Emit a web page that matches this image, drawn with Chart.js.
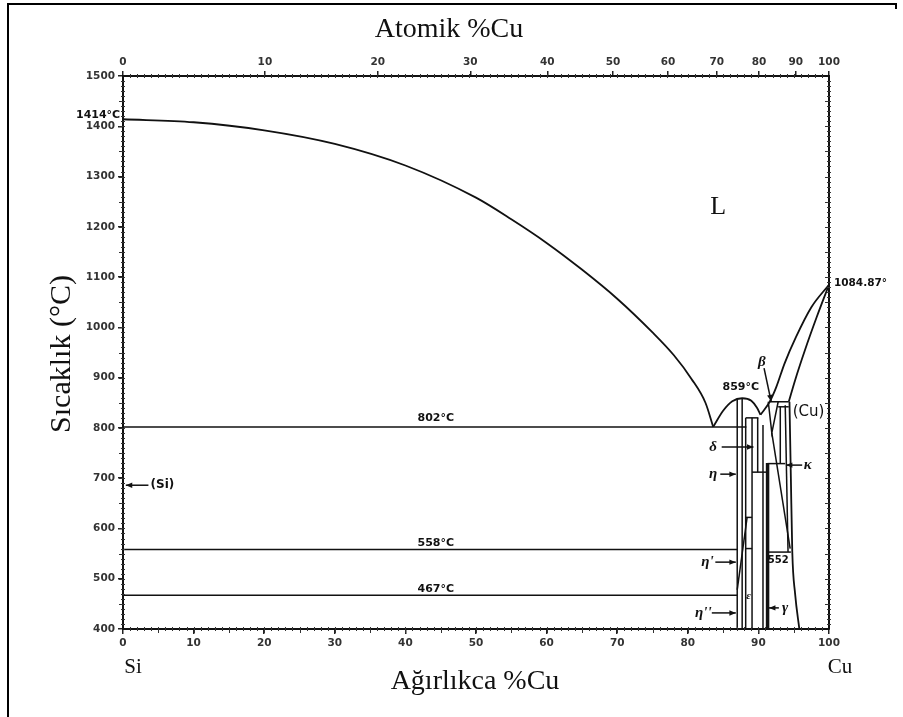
<!DOCTYPE html>
<html><head><meta charset="utf-8">
<script src="https://cdn.jsdelivr.net/npm/chart.js@4.4.0/dist/chart.umd.min.js"></script>
<style>html,body{margin:0;padding:0;background:#fff}canvas{display:block}</style>
</head><body>
<canvas id="c" width="903" height="717"></canvas>
<script>
/* ===== DATA: x = wt% Cu, y = °C ===== */
const atomTickPos = [0, 20.1, 36.1, 49.2, 60.1, 69.4, 77.2, 84.1, 90.1, 95.3, 100];
const atomTickLabels = ['0','10','20','30','40','50','60','70','80','90','100'];

const liquidusSi = [[0,1414],[10,1408],[20,1392],[30,1365],[40,1322],[50,1258],[55,1215],[60,1168],[65,1115],[70,1057],[75,990],[78,945],[80.5,898],[82.5,850],[83.6,802]];
const etaDome    = [[83.6,802],[85,834],[86.3,853],[87.7,859],[89,854],[89.8,840],[90.3,826]];
const liquidusCu = [[90.3,826],[91.6,852],[92.5,880],[93.7,928],[95.3,980],[97.5,1040],[100,1084.87]];
const solidusCu  = [[94.3,852],[95.2,895],[96.6,955],[98.3,1022],[100,1084.87]];
const solvusCu   = [[94.4,852],[94.6,700],[94.8,553],[95.2,470],[95.8,400]];
const iso802 = [[0,802],[88.3,802]];
const iso558 = [[0,558],[87.0,558]];
const iso467 = [[0,467],[87.0,467]];
const etaLeft  = [[87.0,400],[87.0,857]];
const etaRight = [[87.7,400],[87.7,858]];
const etaPrime = [[87.0,478],[88.4,622]];
const eta620   = [[88.2,622],[89.1,622]];
const eta558b  = [[88.2,560],[89.1,560]];
const epsLeft  = [[88.2,400],[88.2,820]];
const epsRight = [[89.1,400],[89.1,820]];
const delta824 = [[88.2,820],[90.0,820]];
const deltaRight = [[89.9,712],[89.9,820]];
const delta712 = [[89.1,712],[91.3,712]];
const gammaLeft = [[90.65,400],[90.65,806]];
const gammaBand = [[91.3,400],[91.3,730]];
const gamma729 = [[91.3,729],[93.8,729]];
const betaV    = [[91.4,852],[91.9,790],[92.8,852]];
const peri852  = [[91.6,852],[94.3,852]];
const kappa842 = [[92.8,842],[94.3,842]];
const kappaLeft = [[93.1,842],[93.1,729]];
const kappaDiag = [[91.9,790],[94.5,560]];
const kappaRight = [[93.8,845],[94.2,553]];
const eut552   = [[91.3,553],[94.6,553]];

const curves = [liquidusSi, etaDome, liquidusCu, solidusCu, solvusCu];
const straight = [iso802, iso558, iso467, etaLeft, etaRight, etaPrime, eta620, eta558b, epsLeft, epsRight,
  delta824, deltaRight, delta712, gammaLeft, gamma729, betaV, peri852, kappa842, kappaLeft, kappaDiag, kappaRight, eut552];

/* labels: [text, wt%, °C, align, font] */
const SANS = "bold 11px 'DejaVu Sans'";
const GREEK = "italic bold 15px 'Liberation Serif'";
const notes = [
  ['1414°C', -0.4, 1423, 'right', SANS],
  ['1084.87°', 100.7, 1088, 'left', "bold 10.5px 'DejaVu Sans'"],
  ['859°C', 87.5, 881, 'center', SANS],
  ['802°C', 44.3, 820, 'center', SANS],
  ['558°C', 44.3, 571, 'center', SANS],
  ['467°C', 44.3, 480, 'center', SANS],
  ['L', 84.3, 1239, 'center', "26px 'Liberation Serif'"],
  ['(Cu)', 97.1, 832, 'center', "15px 'DejaVu Sans'"],
  ['(Si)', 3.9, 686, 'left', "bold 12px 'DejaVu Sans'"],
  ['β', 90.5, 931, 'center', GREEK],
  ['δ', 83.6, 762, 'center', GREEK],
  ['η', 83.6, 708, 'center', GREEK],
  ['κ', 97.0, 726, 'center', GREEK],
  ["η'", 82.8, 533, 'center', GREEK],
  ['ε', 88.6, 466, 'center', "italic bold 11px 'Liberation Serif'"],
  ["η''", 82.2, 432, 'center', GREEK],
  ['γ', 93.8, 442, 'center', GREEK],
  ['552', 92.8, 537, 'center', "bold 10px 'DejaVu Sans'"]
];
/* arrows: [fromW, fromT, toW, toT] */
const arrows = [
  [3.6,686, 0.4,686], [84.8,762, 89.3,762], [84.6,708, 86.8,708], [96.2,726, 93.9,726],
  [83.9,533, 86.8,533], [83.4,432, 86.8,432], [92.9,442, 91.5,442], [90.8,919, 91.8,853]
];

const pts = a => a.map(([x, y]) => ({x, y}));
const datasets = [
  ...curves.map(c => ({data: pts(c), showLine: true, pointRadius: 0, borderColor: '#111', borderWidth: 1.8, cubicInterpolationMode: 'monotone'})),
  ...straight.map(s => ({data: pts(s), showLine: true, pointRadius: 0, borderColor: '#111', borderWidth: 1.5})),
  {data: pts(gammaBand), showLine: true, pointRadius: 0, borderColor: '#111', borderWidth: 3.5}
];

const tickFont = {family: "'DejaVu Sans'", size: 10.5, weight: 'bold'};
const axisBase = {
  ticks: {color: '#333', font: tickFont, autoSkip: false, maxRotation: 0, callback: v => String(v)},
  grid: {drawOnChartArea: false, tickLength: 5, color: '#222', lineWidth: 1.5},
  border: {color: '#111', width: 2}
};

const overlay = {
  id: 'overlay',
  beforeDraw(chart) {
    const ctx = chart.ctx;
    ctx.save();
    ctx.strokeStyle = '#000'; ctx.lineWidth = 2;
    ctx.beginPath(); ctx.moveTo(8, 717); ctx.lineTo(8, 4); ctx.lineTo(896, 4); ctx.lineTo(896, 9); ctx.stroke();
    ctx.restore();
  },
  afterDraw(chart) {
    const {ctx, chartArea: a, scales: {x, y}} = chart;
    ctx.save();
    // minor ticks
    ctx.strokeStyle = '#333'; ctx.lineWidth = 1;
    ctx.beginPath();
    for (let w = 1; w < 100; w++) {
      const px = Math.round(x.getPixelForValue(w)) + 0.5;
      const long = w % 5 === 0 ? 4 : 2;
      ctx.moveTo(px, a.bottom - 2); ctx.lineTo(px, a.bottom + long);
      ctx.moveTo(px, a.top - 2); ctx.lineTo(px, a.top + 2);
    }
    for (let t = 410; t < 1500; t += 10) {
      const py = Math.round(y.getPixelForValue(t)) + 0.5;
      const long = t % 50 === 0 ? 4 : 2;
      ctx.moveTo(a.left - long, py); ctx.lineTo(a.left + 2, py);
      ctx.moveTo(a.right - long, py); ctx.lineTo(a.right + 2, py);
    }
    ctx.stroke();
    // notes
    ctx.fillStyle = '#111'; ctx.textBaseline = 'middle';
    notes.forEach(([t, w, T, al, f]) => {
      ctx.font = f; ctx.textAlign = al;
      ctx.fillText(t, x.getPixelForValue(w), y.getPixelForValue(T));
    });
    // arrows
    ctx.strokeStyle = '#111'; ctx.lineWidth = 1.5;
    arrows.forEach(([w0, t0, w1, t1]) => {
      const x0 = x.getPixelForValue(w0), y0 = y.getPixelForValue(t0);
      const x1 = x.getPixelForValue(w1), y1 = y.getPixelForValue(t1);
      const ang = Math.atan2(y1 - y0, x1 - x0);
      ctx.beginPath(); ctx.moveTo(x0, y0); ctx.lineTo(x1, y1); ctx.stroke();
      ctx.beginPath();
      ctx.moveTo(x1, y1);
      ctx.lineTo(x1 - 7 * Math.cos(ang - 0.4), y1 - 7 * Math.sin(ang - 0.4));
      ctx.lineTo(x1 - 7 * Math.cos(ang + 0.4), y1 - 7 * Math.sin(ang + 0.4));
      ctx.closePath(); ctx.fill();
    });
    // axis titles
    ctx.font = "28px 'Liberation Serif'"; ctx.textAlign = 'center';
    ctx.fillText('Atomik %Cu', 449, 30);
    ctx.fillText('Ağırlıkca %Cu', 475, 682);
    ctx.font = "21px 'Liberation Serif'";
    ctx.fillText('Si', 133, 667);
    ctx.fillText('Cu', 840, 667);
    ctx.save();
    ctx.translate(62, 354); ctx.rotate(-Math.PI / 2);
    ctx.font = "30px 'Liberation Serif'";
    ctx.fillText('Sıcaklık (°C)', 0, 0);
    ctx.restore();
    ctx.restore();
  }
};

new Chart(document.getElementById('c'), {
  type: 'scatter',
  data: {datasets},
  options: {
    responsive: false, animation: false,
    layout: {padding: 0},
    plugins: {legend: {display: false}, tooltip: {enabled: false}},
    scales: {
      x: {...axisBase, type: 'linear', position: 'bottom', min: 0, max: 100,
          ticks: {...axisBase.ticks, stepSize: 10, padding: 3},
          afterFit: s => { s.height = 88; }},
      xTop: {...axisBase, type: 'linear', position: 'top', min: 0, max: 100,
          afterBuildTicks: s => { s.ticks = atomTickPos.map(v => ({value: v})); },
          ticks: {...axisBase.ticks, padding: 2, callback: (v, i) => atomTickLabels[i]},
          afterFit: s => { s.height = 76; }},
      y: {...axisBase, type: 'linear', position: 'left', min: 400, max: 1500,
          ticks: {...axisBase.ticks, stepSize: 100, padding: 3},
          afterFit: s => { s.width = 123; }},
      yR: {...axisBase, type: 'linear', position: 'right', min: 400, max: 1500,
          ticks: {...axisBase.ticks, stepSize: 100, display: false},
          grid: {...axisBase.grid, tickLength: 0},
          afterFit: s => { s.width = 74; }}
    }
  },
  plugins: [overlay]
});
</script>
</body></html>
